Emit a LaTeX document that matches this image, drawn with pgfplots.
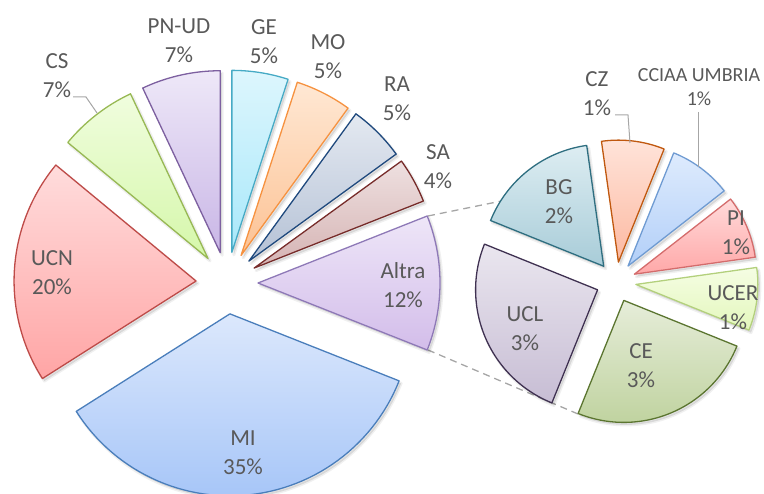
\documentclass[border=0pt]{standalone}
\usepackage{pgfplots}
\pgfplotsset{compat=1.18}
\usepackage{fontspec}
\setmainfont{Carlito}
\definecolor{lab}{HTML}{595959}
\definecolor{lead}{HTML}{A6A6A6}
% main pie colours: draw / top / bottom
\definecolor{MId}{HTML}{4A7EBB}\definecolor{MIt}{HTML}{DCE8FC}\definecolor{MIb}{HTML}{A7C6F8}
\definecolor{UCNd}{HTML}{BE4B48}\definecolor{UCNt}{HTML}{FFDCDC}\definecolor{UCNb}{HTML}{FFA5A5}
\definecolor{CSd}{HTML}{98B954}\definecolor{CSt}{HTML}{F0FDDE}\definecolor{CSb}{HTML}{D5F7AA}
\definecolor{PNd}{HTML}{7D60A0}\definecolor{PNt}{HTML}{EEE8F8}\definecolor{PNb}{HTML}{C9B6E6}
\definecolor{GEd}{HTML}{46AAC5}\definecolor{GEt}{HTML}{DDF6FD}\definecolor{GEb}{HTML}{A8E8FA}
\definecolor{MOd}{HTML}{F69240}\definecolor{MOt}{HTML}{FFE8D4}\definecolor{MOb}{HTML}{FCC294}
\definecolor{RAd}{HTML}{1F497D}\definecolor{RAt}{HTML}{E4E9F1}\definecolor{RAb}{HTML}{B4C1D5}
\definecolor{SAd}{HTML}{772C2A}\definecolor{SAt}{HTML}{EEE0E0}\definecolor{SAb}{HTML}{D5B3B3}
\definecolor{ALd}{HTML}{8E79B7}\definecolor{ALt}{HTML}{EEE6F8}\definecolor{ALb}{HTML}{D3BDEA}
% second pie
\definecolor{BGd}{HTML}{2E6E80}\definecolor{BGt}{HTML}{DDEDF2}\definecolor{BGb}{HTML}{A8CCD8}
\definecolor{CZd}{HTML}{C0580F}\definecolor{CZt}{HTML}{FFE3D9}\definecolor{CZb}{HTML}{FCB9A1}
\definecolor{CCd}{HTML}{6F9BD2}\definecolor{CCt}{HTML}{DEEBFD}\definecolor{CCb}{HTML}{B2CFF8}
\definecolor{PId}{HTML}{D46C6C}\definecolor{PIt}{HTML}{FFDADA}\definecolor{PIb}{HTML}{FFA8A8}
\definecolor{UEd}{HTML}{B3D07C}\definecolor{UEt}{HTML}{F5FDE3}\definecolor{UEb}{HTML}{E3F7BC}
\definecolor{CEd}{HTML}{5B7530}\definecolor{CEt}{HTML}{E6EDD9}\definecolor{CEb}{HTML}{C0D3A0}
\definecolor{ULd}{HTML}{3F3151}\definecolor{ULt}{HTML}{EAE6EF}\definecolor{ULb}{HTML}{C7BDD4}

\tikzset{lbl/.style={text=lab, align=center, inner sep=0pt, font=\fontsize{23}{29}\selectfont}}

% #1 cx, #2 cy, #3 r, #4 start, #5 end, #6 explode, #7 draw, #8 top, #9 bottom
\newcommand\pieslice[9]{%
  \pgfmathsetmacro\pmid{(#4+#5)/2}%
  \pgfmathsetmacro\ox{#1+#6*cos(\pmid)}%
  \pgfmathsetmacro\oy{#2+#6*sin(\pmid)}%
  \pgfmathsetmacro\sx{\ox+2}%
  \pgfmathsetmacro\sy{\oy-2.5}%
  \edef\doit{%
   \noexpand\addplot[draw=black, draw opacity=0.06, line width=3pt, fill=black, fill opacity=0.10,
     line join=round, domain=#4:#5, samples=60]
     ({\sx+#3*cos(x)},{\sy+#3*sin(x)}) -- (axis cs:\sx,\sy) -- cycle;
   \noexpand\addplot[draw=#7, line width=1.3pt, line join=round,
     top color=#8, bottom color=#9, domain=#4:#5, samples=60]
     ({\ox+#3*cos(x)},{\oy+#3*sin(x)}) -- (axis cs:\ox,\oy) -- cycle;}%
  \doit}
% main pie: value in percent of the whole
\def\curA{-21.6}
\newcommand\mslice[4]{%
  \pgfmathsetmacro\aS{\curA}%
  \pgfmathsetmacro\aE{\curA+#1*3.6}%
  \pieslice{227}{211}{182}{\aS}{\aE}{31}{#2}{#3}{#4}%
  \xdef\curA{\aE}}
% second pie: value in percent of the whole, total 12
\def\curB{-22}
\newcommand\sslice[4]{%
  \pgfmathsetmacro\bS{\curB}%
  \pgfmathsetmacro\bE{\curB+#1*30}%
  \pieslice{616}{212}{122}{\bS}{\bE}{20}{#2}{#3}{#4}%
  \xdef\curB{\bE}}

\begin{document}
\begin{tikzpicture}
\begin{axis}[width=764pt, height=494pt, scale only axis,
  xmin=0, xmax=764, ymin=0, ymax=494, hide axis, clip=false]
\coordinate (BL) at (axis cs:0,0);
\coordinate (TR) at (axis cs:764,494);
% connector lines
\addplot[lead, line width=1.3pt, dash pattern=on 7pt off 5pt] coordinates {(428,278) (536,300)};
\addplot[lead, line width=1.3pt, dash pattern=on 7pt off 5pt] coordinates {(428,144) (578,80)};
% main pie
\mslice{12}{ALd}{ALt}{ALb}
\mslice{4}{SAd}{SAt}{SAb}
\mslice{5}{RAd}{RAt}{RAb}
\mslice{5}{MOd}{MOt}{MOb}
\mslice{5}{GEd}{GEt}{GEb}
\mslice{7}{PNd}{PNt}{PNb}
\mslice{7}{CSd}{CSt}{CSb}
\mslice{20}{UCNd}{UCNt}{UCNb}
\mslice{35}{MId}{MIt}{MIb}
% second pie
\sslice{1}{UEd}{UEt}{UEb}
\sslice{1}{PId}{PIt}{PIb}
\sslice{1}{CCd}{CCt}{CCb}
\sslice{1}{CZd}{CZt}{CZb}
\sslice{2}{BGd}{BGt}{BGb}
\sslice{3}{ULd}{ULt}{ULb}
\sslice{3}{CEd}{CEt}{CEb}
% leader lines
\addplot[lead, line width=1pt] coordinates {(73,397) (86,397) (97,381)};
\addplot[lead, line width=1pt] coordinates {(615,379) (628,379) (630,351)};
\addplot[lead, line width=1pt] coordinates {(698,382) (698,327)};
% labels
\node[lbl] at (axis cs:57,418) {CS\\7\%};
\node[lbl] at (axis cs:179,453) {PN-UD\\7\%};
\node[lbl] at (axis cs:264,452) {GE\\5\%};
\node[lbl] at (axis cs:328,437) {MO\\5\%};
\node[lbl] at (axis cs:397,395) {RA\\5\%};
\node[lbl] at (axis cs:438,327) {SA\\4\%};
\node[lbl] at (axis cs:52,221) {UCN\\20\%};
\node[lbl] at (axis cs:403,209) {Altra\\12\%};
\node[lbl] at (axis cs:243,41) {MI\\35\%};
\node[lbl] at (axis cs:559,292) {BG\\2\%};
\node[lbl] at (axis cs:525,165) {UCL\\3\%};
\node[lbl] at (axis cs:641,128) {CE\\3\%};
\node[lbl] at (axis cs:736,261) {PI\\1\%};
\node[lbl] at (axis cs:733,186) {UCER\\1\%};
\node[lbl] at (axis cs:597,400) {CZ\\1\%};
\node[lbl, font=\fontsize{20}{24}\selectfont] at (axis cs:699,407) {CCIAA UMBRIA\\1\%};
\end{axis}
\pgfresetboundingbox
\path[use as bounding box] (BL) rectangle (TR);
\end{tikzpicture}
\end{document}
